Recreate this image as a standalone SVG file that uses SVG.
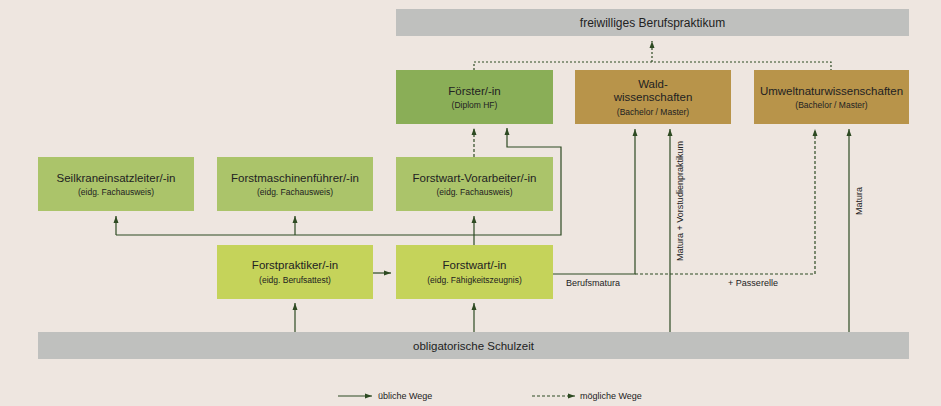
<svg xmlns="http://www.w3.org/2000/svg" width="941" height="406" viewBox="0 0 941 406">
<defs>
<style>
.t{font-family:"Liberation Sans",Arial,sans-serif;fill:#222;text-anchor:middle}
.h{font-size:11.5px}
.s{font-size:8.5px}
.l{font-family:"Liberation Sans",Arial,sans-serif;fill:#222;font-size:9px}
.c{fill:none;stroke:#2D4A22;stroke-width:1.2}
.d{stroke-dasharray:3,2}
.o{stroke-dasharray:2,2}
.a{marker-end:url(#ah)}
.g1{fill:#8AAE57}.g2{fill:#ABC46A}.g3{fill:#C5D35A}.br{fill:#B8944A}.gr{fill:#BFC0BE}
</style>
<marker id="ah" markerUnits="userSpaceOnUse" markerWidth="7" markerHeight="6" refX="7" refY="3" orient="auto">
<path d="M0,0.5 L7,3 L0,5.5 z" fill="#2D4A22"/>
</marker>
</defs>
<rect width="941" height="406" fill="#EEE6E0"/>

<g id="connectors">
<path class="c a" d="M295,332 V303"/>
<path class="c a" d="M474,332 V303"/>
<path class="c a" d="M373,273 H391"/>
<path class="c a" d="M474,246 V216"/>
<path class="c a" d="M116,235 V216"/>
<path class="c a" d="M295,235 V216"/>
<path class="c a" d="M116,235 H561 V147 H507 V128"/>
<path class="c d a" d="M474,157 V128"/>
<path class="c a" d="M553,274 H635 V129"/>
<path class="c d a" d="M635,274 H815 V129"/>
<path class="c a" d="M670,332 V129"/>
<path class="c a" d="M849,332 V129"/>
<path class="c o" d="M474,70 V62 H831 V70"/>
<path class="c o a" d="M652,62 V41"/>
</g>

<g id="labels">
<text class="l" x="566" y="286">Berufsmatura</text>
<text class="l" x="753" y="286" text-anchor="middle">+ Passerelle</text>
<text class="l" transform="translate(682.5,201) rotate(-90)" text-anchor="middle">Matura + Vorstudienpraktikum</text>
<text class="l" transform="translate(861.5,201) rotate(-90)" text-anchor="middle">Matura</text>
</g>

<g id="praktikum"><rect class="gr" x="396" y="9" width="513" height="27"/><text class="t" x="652.5" y="27" font-size="12">freiwilliges Berufspraktikum</text></g>

<g id="foerster"><rect class="g1" x="396" y="70" width="157" height="54"/><text class="t h" x="474.5" y="94.5">Förster/-in</text><text class="t s" x="474.5" y="108">(Diplom HF)</text></g>
<g id="wald"><rect class="br" x="575" y="70" width="156" height="54"/><text class="t h" x="653" y="87.5">Wald-</text><text class="t h" x="653" y="101">wissenschaften</text><text class="t s" x="653" y="114.5">(Bachelor / Master)</text></g>
<g id="umwelt"><rect class="br" x="754" y="70" width="155" height="54"/><text class="t h" x="831.5" y="94.5">Umweltnaturwissenschaften</text><text class="t s" x="831.5" y="108">(Bachelor / Master)</text></g>

<g id="seilkran"><rect class="g2" x="38" y="157" width="156" height="54"/><text class="t h" x="116" y="181.5">Seilkraneinsatzleiter/-in</text><text class="t s" x="116" y="195">(eidg. Fachausweis)</text></g>
<g id="forstmaschinen"><rect class="g2" x="217" y="157" width="156" height="54"/><text class="t h" x="295" y="181.5">Forstmaschinenführer/-in</text><text class="t s" x="295" y="195">(eidg. Fachausweis)</text></g>
<g id="vorarbeiter"><rect class="g2" x="396" y="157" width="157" height="54"/><text class="t h" x="474.5" y="181.5">Forstwart-Vorarbeiter/-in</text><text class="t s" x="474.5" y="195">(eidg. Fachausweis)</text></g>

<g id="forstpraktiker"><rect class="g3" x="217" y="245" width="156" height="54"/><text class="t h" x="295" y="269">Forstpraktiker/-in</text><text class="t s" x="295" y="282.5">(eidg. Berufsattest)</text></g>
<g id="forstwart"><rect class="g3" x="396" y="245" width="157" height="54"/><text class="t h" x="474.5" y="269">Forstwart/-in</text><text class="t s" x="474.5" y="282.5">(eidg. Fähigkeitszeugnis)</text></g>

<g id="schulzeit"><rect class="gr" x="38" y="332" width="871" height="27"/><text class="t" x="473.5" y="350" font-size="11.5">obligatorische Schulzeit</text></g>

<g id="legend">
<path class="c a" d="M338,396 H372"/>
<text class="l" x="378" y="399">übliche Wege</text>
<path class="c d a" d="M532,396 H575"/>
<text class="l" x="580" y="399">mögliche Wege</text>
</g>
</svg>
